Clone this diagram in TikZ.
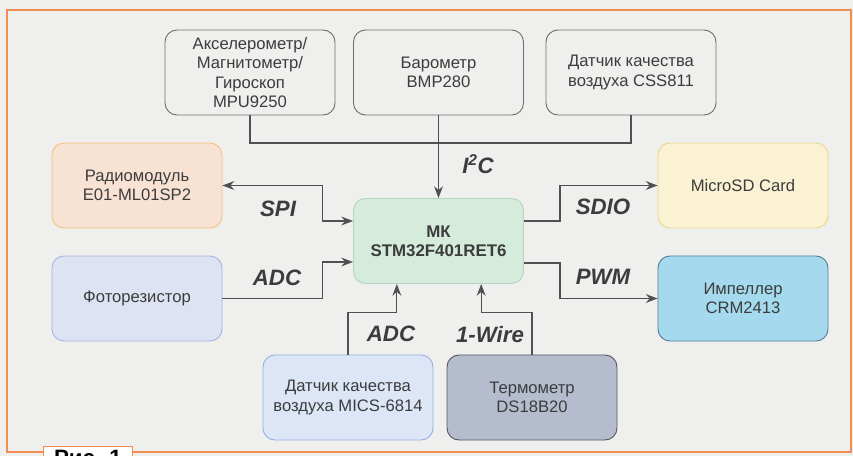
\documentclass[tikz,border=0pt]{standalone}
\usepackage{fontspec}
\setmainfont{Liberation Sans}
\usetikzlibrary{arrows.meta}
\definecolor{paper}{RGB}{239, 239, 237}
\definecolor{frameOrange}{RGB}{242, 140, 82}
\definecolor{ink}{RGB}{60, 60, 60}
\definecolor{wireGray}{RGB}{80, 80, 80}
\definecolor{boxGray}{RGB}{110, 110, 110}
\definecolor{radioFill}{RGB}{248, 226, 212}
\definecolor{radioLine}{RGB}{240, 195, 120}
\definecolor{sdFill}{RGB}{250, 242, 210}
\definecolor{sdLine}{RGB}{232, 215, 140}
\definecolor{mcuFill}{RGB}{213, 235, 220}
\definecolor{mcuLine}{RGB}{180, 212, 190}
\definecolor{photoFill}{RGB}{221, 227, 243}
\definecolor{photoLine}{RGB}{168, 180, 222}
\definecolor{impFill}{RGB}{165, 218, 238}
\definecolor{impLine}{RGB}{85, 125, 150}
\definecolor{micsFill}{RGB}{220, 230, 247}
\definecolor{micsLine}{RGB}{150, 175, 225}
\definecolor{thermFill}{RGB}{180, 188, 206}
\definecolor{thermLine}{RGB}{85, 88, 98}

\begin{document}
\begin{tikzpicture}[x=0.03cm, y=-0.03cm,
    unit/.style={draw=boxGray, fill=paper, rounded corners=0.36cm, line width=0.8pt,
      minimum width=5.1cm, minimum height=2.55cm, inner sep=2pt, align=center,
      text=ink, font=\fontsize{14.2}{16.5}\selectfont},
    wire/.style={draw=wireGray, line width=1.1pt},
    arr/.style={wire, -{Stealth[length=10pt,width=7.5pt]}},
    tag/.style={text=ink, font=\fontsize{19}{22}\selectfont\bfseries\itshape}]
  \useasboundingbox (0,0) rectangle (853,456);
  \clip (0,0) rectangle (853,456);
  \fill[paper] (0,0) rectangle (853,456);
  \draw[frameOrange, line width=1.5pt] (7,10) rectangle (851,452);

  \node[unit] (accel) at (250,72.5) {Акселерометр/\\Магнитометр/\\Гироскоп\\MPU9250};
  \node[unit] (baro) at (438.5,72.5) {Барометр\\BMP280};
  \node[unit] (css) at (631,72.5) {Датчик качества\\воздуха CSS811};
  \node[unit, fill=radioFill, draw=radioLine] (radio) at (137,185.5) {Радиомодуль\\E01-ML01SP2};
  \node[unit, fill=sdFill, draw=sdLine] (sd) at (743,185.5) {MicroSD Card};
  \node[unit, fill=mcuFill, draw=mcuLine, font=\fontsize{14.4}{16.5}\selectfont\bfseries] (mcu) at (438.5,241) {МК\\STM32F401RET6};
  \node[unit, fill=photoFill, draw=photoLine] (photo) at (137,298.5) {Фоторезистор};
  \node[unit, fill=impFill, draw=impLine] (imp) at (743,298.5) {Импеллер\\CRM2413};
  \node[unit, fill=micsFill, draw=micsLine] (mics) at (348,397.5) {Датчик качества\\воздуха MICS-6814};
  \node[unit, fill=thermFill, draw=thermLine] (therm) at (532,397.5) {Термометр\\DS18B20};

  \coordinate (bus) at (438.5,143);
  \draw[wire] (accel.south) |- (bus) -| (css.south);
  \draw[arr] (baro.south) -- (mcu.north);
  \draw[arr, {Stealth[length=10pt,width=7.5pt]}-{Stealth[length=10pt,width=7.5pt]}] (radio.east) -- ++(100,0) |- ([yshift=0.6cm]mcu.west);
  \draw[arr] (photo.east) -- ++(100,0) |- ([yshift=-0.63cm]mcu.west);
  \draw[arr] ([yshift=0.6cm]mcu.east) -- ++(36,0) |- (sd.west);
  \draw[arr] ([yshift=-0.66cm]mcu.east) -- ++(36,0) |- (imp.west);
  \draw[arr] (mics.north) -- ++(0,-42) -| ([xshift=-1.25cm]mcu.south);
  \draw[arr] (therm.north) -- ++(0,-42) -| ([xshift=1.28cm]mcu.south);

  \node[tag] (li2c) at (478,164) {I\textsuperscript{2}C};
  \node[tag] (lspi) at (278,209) {SPI};
  \node[tag] (lsdio) at (603,207) {SDIO};
  \node[tag] (ladc) at (277,278) {ADC};
  \node[tag] (lpwm) at (603,277) {PWM};
  \node[tag] (ladcb) at (391,334) {ADC};
  \node[tag] (lwire) at (490,335) {1-Wire};

  \node[draw=frameOrange, fill=white, line width=0.8pt, anchor=north west, minimum width=2.67cm,
    inner sep=3pt, font=\fontsize{19}{22}\selectfont\bfseries, text=black] (fig) at (43,446) {Рис. 1};
\end{tikzpicture}
\end{document}
